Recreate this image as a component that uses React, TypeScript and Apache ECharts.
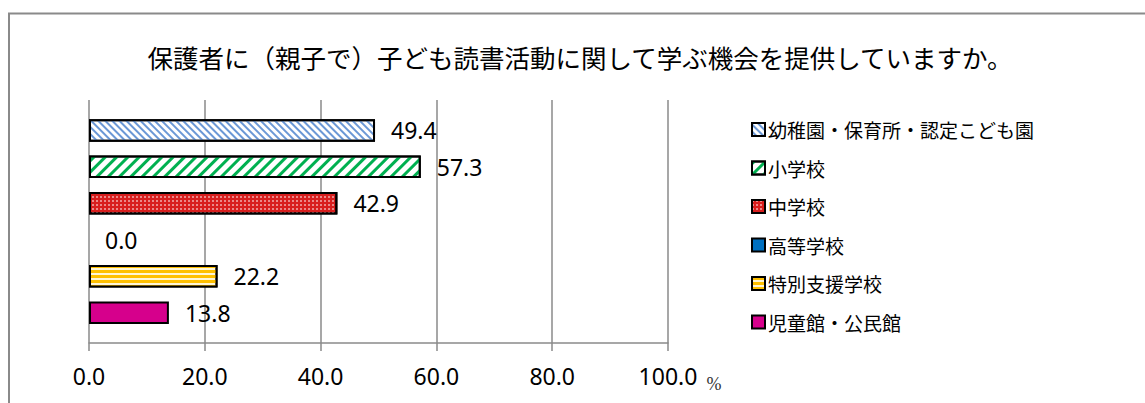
import React, { useEffect, useRef } from 'react';
import * as echarts from 'echarts';

const titleText = '保護者に（親子で）子ども読書活動に関して学ぶ機会を提供していますか。';
const categories = [''];
const seriesNames = [
  '幼稚園・保育所・認定こども園',
  '小学校',
  '中学校',
  '高等学校',
  '特別支援学校',
  '児童館・公民館',
];
const seriesValues = [49.4, 57.3, 42.9, 0.0, 22.2, 13.8];
const xMin = 0;
const xMax = 100;
const xInterval = 20;
const unitLabel = '%';

const seriesStyles: any[] = [
  {
    color: '#ffffff',
    decal: {
      symbol: 'rect',
      symbolSize: 1,
      color: '#6b98d6',
      dashArrayX: [1, 0],
      dashArrayY: [2, 2.2],
      rotation: Math.PI / 4,
    },
  },
  {
    color: '#ffffff',
    decal: {
      symbol: 'rect',
      symbolSize: 1,
      color: '#00b050',
      dashArrayX: [1, 0],
      dashArrayY: [3, 5],
      rotation: -Math.PI / 4,
    },
  },
  {
    color: '#d81e1e',
    decal: {
      symbol: 'rect',
      symbolSize: 0.7,
      color: 'rgba(255,255,255,0.9)',
      dashArrayX: [2, 2],
      dashArrayY: [2, 2],
      rotation: 0,
    },
  },
  { color: '#0070c0' },
  {
    color: '#fff6d6',
    decal: {
      symbol: 'rect',
      symbolSize: 1,
      color: '#ffc000',
      dashArrayX: [1, 0],
      dashArrayY: [3, 2],
      rotation: 0,
    },
  },
  { color: '#d6008c' },
];

export default function App() {
  const ref = useRef<HTMLDivElement>(null);
  useEffect(() => {
    if (!ref.current) return;
    const chart = echarts.init(ref.current, undefined, { renderer: 'svg' });
    const option: any = {
      animation: false,
      backgroundColor: '#ffffff',
      grid: { left: 89, right: 477, top: 100, bottom: 60 },
      xAxis: {
        type: 'value',
        min: xMin,
        max: xMax,
        interval: xInterval,
        axisLine: { show: true, lineStyle: { color: '#8a8a8a', width: 1.5 } },
        axisTick: { show: true, length: 8, lineStyle: { color: '#8a8a8a', width: 1.5 } },
        splitLine: { show: true, lineStyle: { color: '#8a8a8a', width: 1.5 } },
        axisLabel: {
          formatter: (v: number) => v.toFixed(1),
          fontSize: 23,
          color: '#000',
          fontFamily: 'Noto Sans',
          margin: 21,
        },
      },
      yAxis: {
        type: 'category',
        data: categories,
        inverse: true,
        axisLine: { show: false },
        axisTick: { show: false },
        axisLabel: { show: false },
        splitLine: { show: false },
      },
      legend: {
        orient: 'vertical',
        left: 746,
        top: 115,
        icon: 'rect',
        itemWidth: 13,
        itemHeight: 13,
        itemGap: 19.5,
        textStyle: { fontSize: 19, color: '#000', fontFamily: 'Noto Sans CJK JP', padding: [0, 0, 0, -2] },
        data: seriesNames,
      },
      graphic: [
        {
          type: 'rect',
          z: -1,
          shape: { x: 9, y: 13.5, width: 1300, height: 600 },
          style: { fill: 'none', stroke: '#8a8a8a', lineWidth: 2 },
          silent: true,
        },
        {
          type: 'text',
          x: 580,
          y: 56,
          style: {
            text: titleText,
            fontSize: 25.5,
            fontFamily: 'Noto Sans CJK JP',
            fill: '#000',
            align: 'center',
            verticalAlign: 'middle',
          },
        },
        {
          type: 'text',
          x: 714,
          y: 384,
          style: {
            text: unitLabel,
            fontSize: 18,
            fontFamily: 'Liberation Serif',
            fill: '#333',
            align: 'center',
            verticalAlign: 'middle',
          },
        },
      ],
      series: seriesNames.map((name, i) => ({
        type: 'bar',
        name,
        data: [
          seriesValues[i] === 0
            ? { value: seriesValues[i], itemStyle: { borderWidth: 0 } }
            : seriesValues[i],
        ],
        barWidth: 22.5,
        barGap: '62%',
        itemStyle: { ...seriesStyles[i], borderColor: '#000', borderWidth: 2 },
        label: {
          show: true,
          position: 'right',
          distance: 16,
          formatter: (p: any) => Number(p.value).toFixed(1),
          fontSize: 23,
          color: '#000',
          fontFamily: 'Noto Sans',
        },
      })),
    };
    chart.setOption(option);
    return () => chart.dispose();
  }, []);
  return (
    <div
      ref={ref}
      style={{ position: 'absolute', left: 0, top: 0, width: 1145, height: 403 }}
    />
  );
}
